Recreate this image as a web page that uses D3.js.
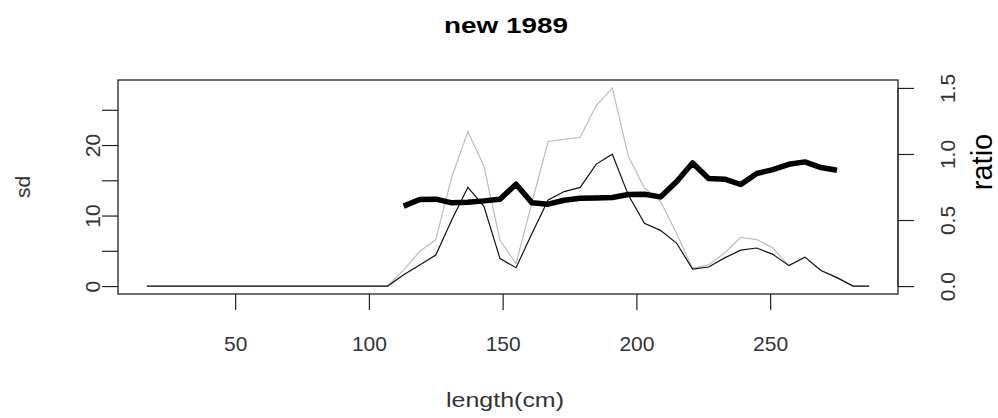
<!DOCTYPE html>
<html>
<head>
<meta charset="utf-8">
<script src="https://cdn.jsdelivr.net/npm/d3@7"></script>
<style>
  body { margin: 0; background: #fff; }
  svg { display: block; }
  .tick text, .label { font-family: "Liberation Sans", Arial, sans-serif; }
</style>
</head>
<body>
<div id="chart"></div>
<script>
// length classes (cm)
var lengths = [17, 23, 29, 35, 41, 47, 53, 59, 65, 71, 77, 83, 89, 95, 101, 107,
               113, 119, 125, 131, 137, 143, 149, 155, 161, 167, 173, 179, 185, 191,
               197, 203, 209, 215, 221, 227, 233, 239, 245, 251, 257, 263, 269, 275, 281, 287];

// sd, thin black line
var sdBlack = [0, 0, 0, 0, 0, 0, 0, 0, 0, 0, 0, 0, 0, 0, 0, 0,
               1.6, 3.0, 4.4, 9.4, 14.0, 11.3, 3.9, 2.6, 7.5, 12.2, 13.4, 14.0, 17.3, 18.7,
               12.9, 8.9, 7.9, 6.1, 2.4, 2.7, 4.0, 5.1, 5.4, 4.5, 2.9, 4.1, 2.2, 1.2, 0, 0];

// sd, thin grey line
var sdGrey = [0, 0, 0, 0, 0, 0, 0, 0, 0, 0, 0, 0, 0, 0, 0, 0,
              2.3, 4.9, 6.6, 15.5, 21.9, 17.0, 6.5, 3.2, 11.9, 20.5, 20.8, 21.1, 25.6, 28.1,
              18.4, 13.9, 12.0, 7.5, 2.5, 3.0, 4.7, 6.9, 6.6, 5.4, 2.9, 4.1, 2.2, 1.2, 0, 0];

// ratio, thick line (right axis)
var ratioLengths = [113, 119, 125, 131, 137, 143, 149, 155, 161, 167, 173, 179, 185, 191,
                    197, 203, 209, 215, 221, 227, 233, 239, 245, 251, 257, 263, 269, 275];
var ratioValues = [0.605, 0.655, 0.658, 0.63, 0.635, 0.645, 0.658, 0.771, 0.63, 0.62, 0.65, 0.665, 0.667, 0.67,
                   0.693, 0.695, 0.675, 0.79, 0.932, 0.814, 0.809, 0.769, 0.852, 0.882, 0.922, 0.94, 0.897, 0.877];

var xTicks = [50, 100, 150, 200, 250];
var sdTicks = [0, 5, 10, 15, 20, 25];
var sdLabels = [0, 10, 20];
var ratioTicks = [0, 0.5, 1.0, 1.5];
var ratioLim = [0, 1.5];

var W = 998, H = 418;
var box = {left: 118, right: 898, top: 80, bottom: 294};

// R style 4% padding
function pad(ext){
    var r = ext[1] - ext[0];
    return [ext[0] - 0.04 * r, ext[1] + 0.04 * r];
}

var x = d3.scaleLinear()
          .domain(pad(d3.extent(lengths)))
          .range([box.left, box.right]);

var yL = d3.scaleLinear()
           .domain(pad([0, d3.max(sdGrey.concat(sdBlack))]))
           .range([box.bottom, box.top]);

var yR = d3.scaleLinear()
           .domain(pad(ratioLim))
           .range([box.bottom, box.top]);

var svg = d3.select("#chart")
            .append("svg")
            .attr("width", W)
            .attr("height", H);

// plot box
svg.append("rect")
   .attr("x", box.left)
   .attr("y", box.top)
   .attr("width", box.right - box.left)
   .attr("height", box.bottom - box.top)
   .attr("fill", "none")
   .attr("stroke", "#222")
   .attr("stroke-width", 1.3);

// bottom axis
var xAxis = svg.append("g")
   .attr("transform", "translate(0," + box.bottom + ")")
   .call(d3.axisBottom(x).tickValues(xTicks).tickSize(16).tickFormat(d3.format("d")));
xAxis.select(".domain").remove();
xAxis.selectAll("text").attr("y", 57).attr("dy", 0);

// left axis
var yAxisL = svg.append("g")
   .attr("transform", "translate(" + box.left + ",0)")
   .call(d3.axisLeft(yL).tickValues(sdTicks).tickSize(16)
           .tickFormat(function(d){ return sdLabels.indexOf(d) >= 0 ? d : ""; }));
yAxisL.select(".domain").remove();
yAxisL.selectAll("text")
      .attr("transform", "rotate(-90)")
      .attr("text-anchor", "middle")
      .attr("x", 0).attr("y", -18).attr("dy", 0);

// right axis
var yAxisR = svg.append("g")
   .attr("transform", "translate(" + box.right + ",0)")
   .call(d3.axisRight(yR).tickValues(ratioTicks).tickSize(16).tickFormat(d3.format(".1f")));
yAxisR.select(".domain")
      .attr("d", "M0," + yR(ratioTicks[0]) + "V" + yR(ratioTicks[ratioTicks.length - 1]))
      .attr("stroke", "#222");
yAxisR.selectAll("text")
      .attr("transform", "rotate(-90)")
      .attr("text-anchor", "middle")
      .attr("x", 0).attr("y", 57).attr("dy", 0);

svg.selectAll(".tick line").attr("stroke", "#222").attr("stroke-width", 1.2);
svg.selectAll(".tick text").attr("font-size", 21).attr("fill", "#333");

// lines
var lineL = d3.line()
              .x(function(d) { return x(d[0]); })
              .y(function(d) { return yL(d[1]); });
var lineR = d3.line()
              .x(function(d) { return x(d[0]); })
              .y(function(d) { return yR(d[1]); });

svg.append("path")
   .datum(d3.zip(lengths, sdGrey))
   .attr("d", lineL)
   .attr("fill", "none")
   .attr("stroke", "#bdbdbd")
   .attr("stroke-width", 1.2);

svg.append("path")
   .datum(d3.zip(lengths, sdBlack))
   .attr("d", lineL)
   .attr("fill", "none")
   .attr("stroke", "#111")
   .attr("stroke-width", 1.2);

svg.append("path")
   .datum(d3.zip(ratioLengths, ratioValues))
   .attr("d", lineR)
   .attr("fill", "none")
   .attr("stroke", "#000")
   .attr("stroke-width", 5.5)
   .attr("stroke-linejoin", "round");

// titles
svg.append("text")
   .attr("class", "label")
   .attr("x", 506)
   .attr("y", 33)
   .attr("text-anchor", "middle")
   .attr("font-size", 22)
   .attr("font-weight", "bold")
   .attr("textLength", 124)
   .attr("lengthAdjust", "spacingAndGlyphs")
   .text("new 1989");

svg.append("text")
   .attr("class", "label")
   .attr("x", 505)
   .attr("y", 407)
   .attr("text-anchor", "middle")
   .attr("font-size", 21)
   .attr("fill", "#333")
   .attr("textLength", 118)
   .attr("lengthAdjust", "spacingAndGlyphs")
   .text("length(cm)");

svg.append("text")
   .attr("class", "label")
   .attr("transform", "translate(30," + (box.top + box.bottom) / 2 + ") rotate(-90)")
   .attr("text-anchor", "middle")
   .attr("font-size", 21)
   .attr("fill", "#333")
   .text("sd");

svg.append("text")
   .attr("class", "label")
   .attr("transform", "translate(992,162) rotate(-90)")
   .attr("text-anchor", "middle")
   .attr("font-size", 29)
   .attr("fill", "#000")
   .text("ratio");
</script>
</body>
</html>
